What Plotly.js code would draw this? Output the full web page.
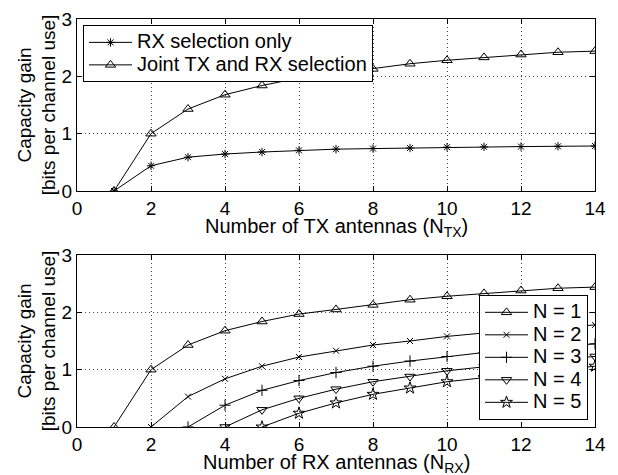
<!DOCTYPE html>
<html><head><meta charset="utf-8">
<script src="https://cdn.plot.ly/plotly-3.0.1.min.js"></script>
<style>body{margin:0;background:#fff}#c{width:618px;height:475px}</style>
</head><body><div id="c"></div>
<script>
const nAnt = [1,2,3,4,5,6,7,8,9,10,11,12,13,14];
const rxOnly = [0,0.44,0.59,0.645,0.68,0.71,0.73,0.74,0.75,0.765,0.77,0.775,0.78,0.785];
const jointTxRx = [0,1.0,1.43,1.68,1.84,1.97,2.05,2.13,2.22,2.28,2.33,2.38,2.42,2.44];
const xN1 = [1,2,3,4,5,6,7,8,9,10,11,12,13,14];
const yN1 = [0,1.0,1.43,1.68,1.84,1.97,2.05,2.13,2.22,2.28,2.33,2.38,2.42,2.44];
const xN2 = [2,3,4,5,6,7,8,9,10,11,12,13,14];
const yN2 = [0,0.53,0.84,1.06,1.22,1.33,1.43,1.50,1.58,1.64,1.69,1.74,1.78];
const xN3 = [3,4,5,6,7,8,9,10,11,12,13,14];
const yN3 = [0,0.38,0.64,0.81,0.95,1.06,1.15,1.23,1.30,1.36,1.41,1.45];
const xN4 = [4,5,6,7,8,9,10,11,12,13,14];
const yN4 = [0,0.30,0.50,0.66,0.79,0.88,0.98,1.05,1.12,1.18,1.23];
const xN5 = [5,6,7,8,9,10,11,12,13,14];
const yN5 = [0,0.24,0.42,0.57,0.68,0.79,0.86,0.93,1.00,1.06];
const topLabels = ['RX selection only','Joint TX and RX selection'];
const botLabels = ['N = 1','N = 2','N = 3','N = 4','N = 5'];
const yTitle = 'Capacity gain<br>[bits per channel use]';
const xTitleTop = 'Number of TX antennas (N<sub>TX</sub>)';
const xTitleBot = 'Number of RX antennas (N<sub>RX</sub>)';

const F = 'Liberation Sans, Arial, Helvetica, sans-serif';
const FS = 19;
const FT = 20;
function tr(x,y,name,sym,size,xa,ya,leg){
  return {x:x,y:y,name:'<span style="font-size:'+FT+'px">'+name+'</span>',type:'scatter',mode:'lines+markers',xaxis:xa,yaxis:ya,legend:leg,
    line:{color:'#000',width:1},
    marker:{symbol:sym,size:size,color:'#000',line:{color:'#000',width:1}}};
}
const data = [
  tr(nAnt,rxOnly,topLabels[0],'asterisk-open',7,'x','y','legend'),
  tr(nAnt,jointTxRx,topLabels[1],'triangle-up-open',9,'x','y','legend'),
  tr(xN1,yN1,botLabels[0],'triangle-up-open',9,'x2','y2','legend2'),
  tr(xN2,yN2,botLabels[1],'x-thin-open',6,'x2','y2','legend2'),
  tr(xN3,yN3,botLabels[2],'cross-thin-open',8,'x2','y2','legend2'),
  tr(xN4,yN4,botLabels[3],'triangle-down-open',9,'x2','y2','legend2'),
  tr(xN5,yN5,botLabels[4],'star-open',9,'x2','y2','legend2')
];
function xax(anchor){
  return {anchor:anchor,domain:[0,1],range:[0,14],tickvals:[0,2,4,6,8,10,12,14],
    showgrid:true,gridcolor:'#444',griddash:'1px,3px',gridwidth:1,zeroline:false,
    showline:true,linecolor:'#000',linewidth:1,mirror:'ticks',ticks:'inside',ticklen:5,tickcolor:'#000',
    tickfont:{family:F,size:FS,color:'#000'}};
}
function yax(anchor,dom){
  return {anchor:anchor,domain:dom,range:[0,3],tickvals:[0,1,2,3],
    showgrid:true,gridcolor:'#444',griddash:'1px,3px',gridwidth:1,zeroline:false,
    showline:true,linecolor:'#000',linewidth:1,mirror:'ticks',ticks:'inside',ticklen:5,tickcolor:'#000',
    tickfont:{family:F,size:FS,color:'#000'},
    title:{text:yTitle,font:{family:F,size:FS,color:'#000'},standoff:0}};
}
const legStyle = {bgcolor:'#fff',bordercolor:'#000',borderwidth:1,font:{family:F,size:15,color:'#000'},
  tracegroupgap:0,itemwidth:43};
function xt(text,yref){
  return {text:text,xref:'paper',x:0.5,yref:yref,y:0,yanchor:'top',yshift:-22,showarrow:false,
    font:{family:F,size:FT,color:'#000'}};
}
const layout = {
  width:618,height:475,margin:{l:77,r:23,t:19,b:48},
  paper_bgcolor:'#fff',plot_bgcolor:'#fff',showlegend:true,
  xaxis:xax('y'),
  yaxis:yax('x',[0.5784,1]),
  xaxis2:xax('y2'),
  yaxis2:yax('x2',[0,0.4216]),
  annotations:[xt(xTitleTop,'y domain'),xt(xTitleBot,'y2 domain')],
  legend:Object.assign({x:0.0116,y:0.985,xanchor:'left',yanchor:'top'},legStyle),
  legend2:Object.assign({x:0.9865,y:0.017,xanchor:'right',yanchor:'bottom'},legStyle)
};
Plotly.newPlot('c',data,layout,{displayModeBar:false,staticPlot:true});
</script></body></html>
